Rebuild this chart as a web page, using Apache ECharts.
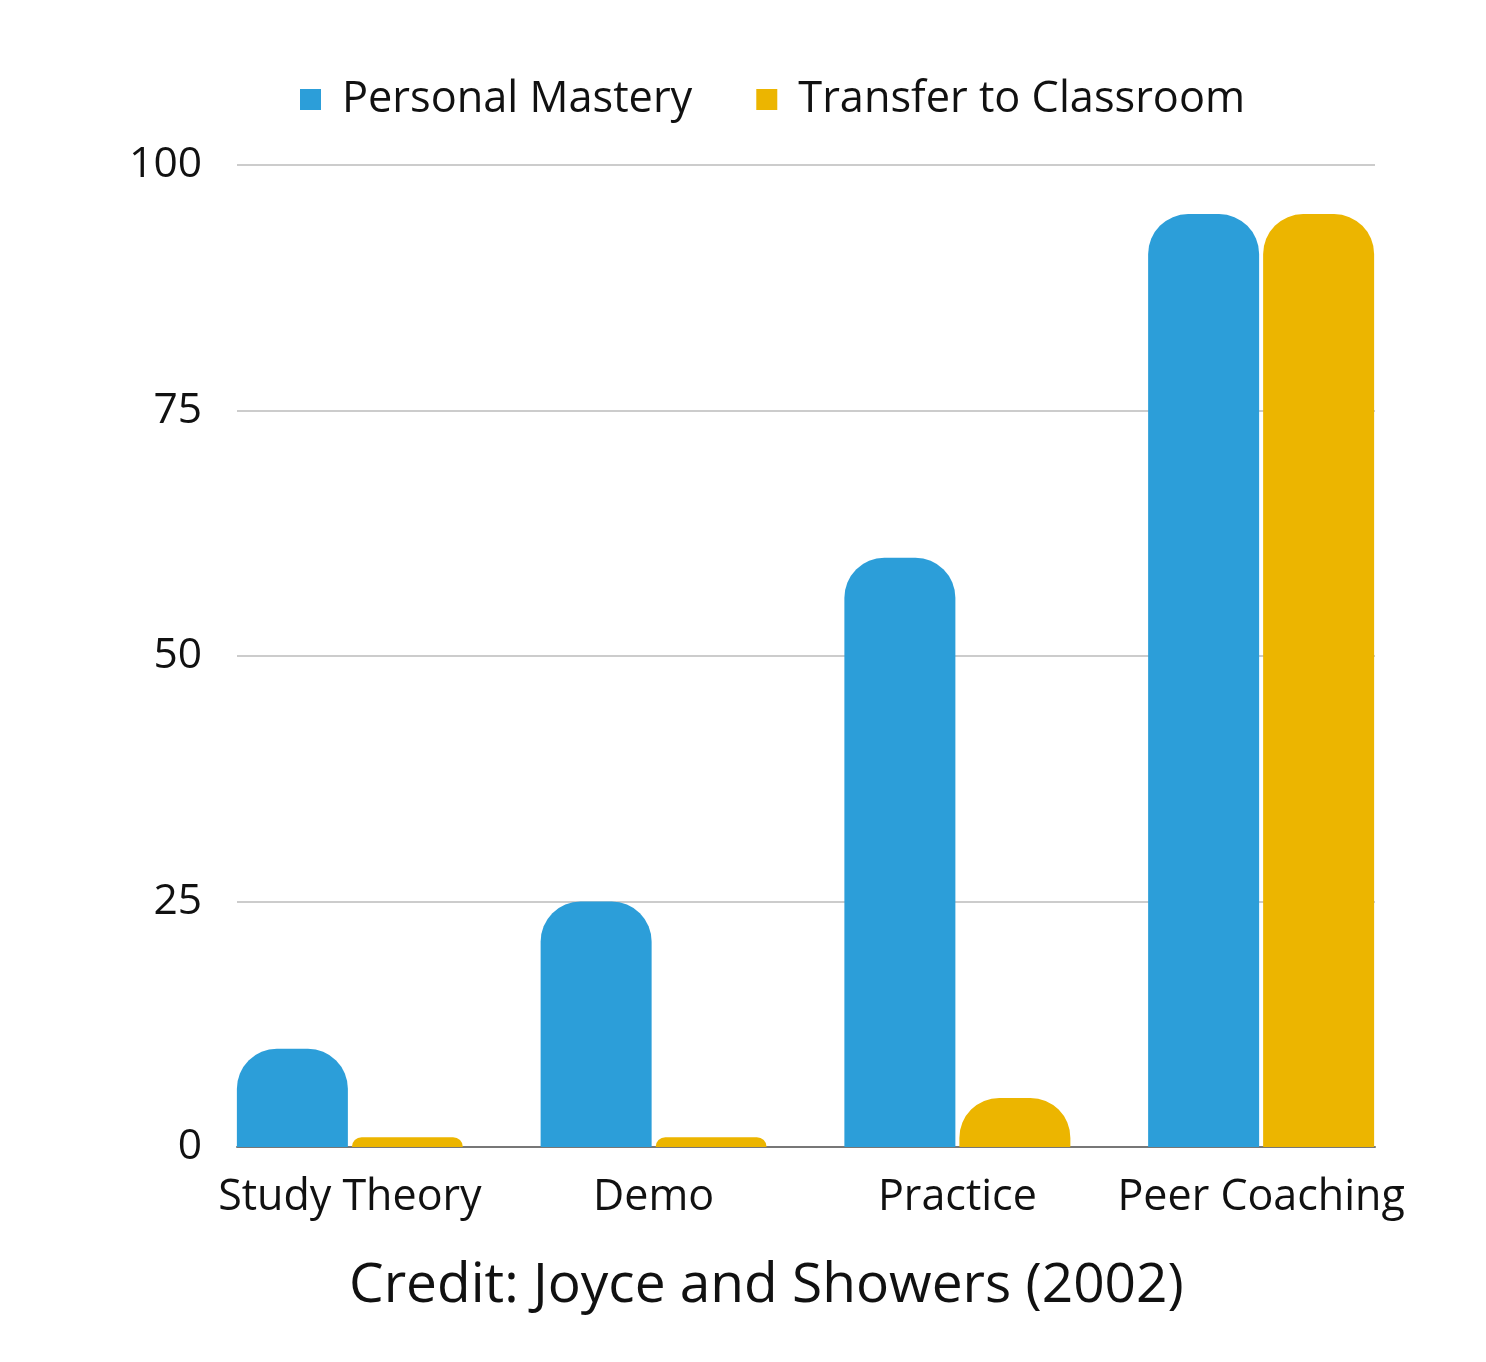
<!DOCTYPE html>
<html>
<head>
<meta charset="utf-8">
<script src="https://cdn.jsdelivr.net/npm/echarts@6/dist/echarts.min.js"></script>
<style>
html,body{margin:0;padding:0;background:#fff;}
#chart{width:1486px;height:1362px;}
</style>
</head>
<body>
<div id="chart"></div>
<script>
const categories = ['Study Theory', 'Demo', 'Practice', 'Peer Coaching'];
const personalMastery = [10, 25, 60, 95];
const transferToClassroom = [1, 1, 5, 95];
const yTicks = [0, 25, 50, 75, 100];
const seriesNames = ['Personal Mastery', 'Transfer to Classroom'];
const creditText = 'Credit: Joyce and Showers (2002)';

const FONT = '"Open Sans", "Noto Sans", sans-serif';
const chart = echarts.init(document.getElementById('chart'), null, {renderer: 'canvas'});

const option = {
  backgroundColor: '#ffffff',
  animation: false,
  textStyle: {fontFamily: FONT},
  title: {
    text: creditText,
    left: 349,
    top: 1259,
    padding: 0,
    textStyle: {fontFamily: FONT, fontSize: 55, fontWeight: 'normal', color: '#111'}
  },
  legend: {
    data: seriesNames,
    top: 73,
    left: 295,
    icon: 'rect',
    itemWidth: 21,
    itemHeight: 21,
    itemGap: 64,
    textStyle: {fontFamily: FONT, fontSize: 43.3, color: '#111', padding: [0, 0, 0, 16]}
  },
  grid: [
    {left: 237, right: 111, top: 165, bottom: 215},
    {left: 198, right: 73, top: 165, bottom: 215}
  ],
  xAxis: [
    {
      type: 'category', gridIndex: 0, data: categories,
      axisLine: {show: true, lineStyle: {color: '#777', width: 2}},
      axisTick: {show: false}, axisLabel: {show: false}, splitLine: {show: false}
    },
    {
      type: 'category', gridIndex: 1, data: categories,
      axisLine: {show: false}, axisTick: {show: false},
      axisLabel: {fontFamily: FONT, fontSize: 43, color: '#111', margin: 29, interval: 0}
    }
  ],
  yAxis: [
    {
      type: 'value', gridIndex: 0, min: yTicks[0], max: yTicks[yTicks.length - 1], interval: 25,
      axisLine: {show: false}, axisTick: {show: false},
      axisLabel: {fontFamily: FONT, fontSize: 42.5, color: '#111', margin: 35, lineHeight: 48, verticalAlign: 'middle', padding: [6, 0, 0, 0]},
      splitLine: {show: true, lineStyle: {color: '#cccccc', width: 2}}
    },
    {
      type: 'value', gridIndex: 1, min: yTicks[0], max: yTicks[yTicks.length - 1], interval: 25,
      axisLine: {show: false}, axisTick: {show: false},
      axisLabel: {show: false}, splitLine: {show: false}
    }
  ],
  series: [
    {
      name: seriesNames[0], type: 'bar', xAxisIndex: 1, yAxisIndex: 1,
      data: personalMastery, barWidth: 111, barGap: '3.6%',
      itemStyle: {color: '#2c9ed9', borderRadius: [40, 40, 0, 0]}
    },
    {
      name: seriesNames[1], type: 'bar', xAxisIndex: 1, yAxisIndex: 1,
      data: transferToClassroom, barWidth: 111, barGap: '3.6%',
      itemStyle: {color: '#ecb500', borderRadius: [40, 40, 0, 0]}
    }
  ]
};
chart.setOption(option);
</script>
</body>
</html>
